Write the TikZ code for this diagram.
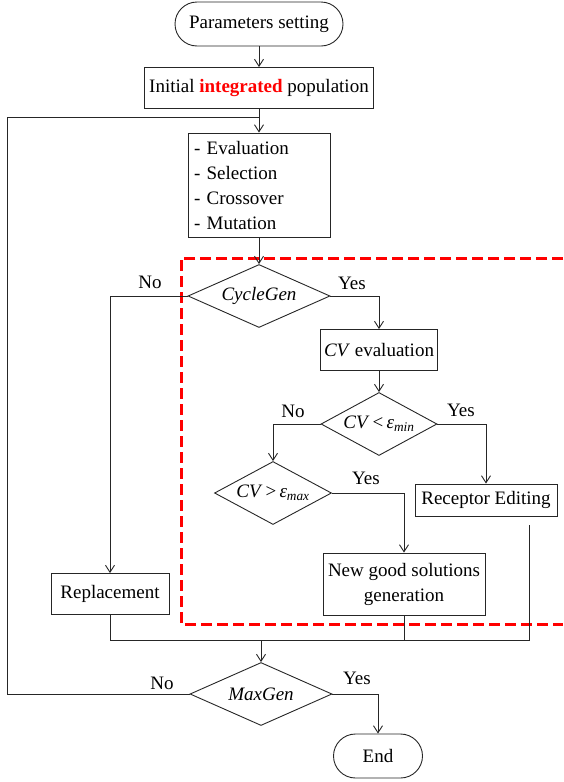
\documentclass[tikz,border=0pt]{standalone}
\usepackage{fontspec}
\setmainfont{Liberation Serif}
\usetikzlibrary{arrows.meta,shapes.geometric}

\begin{document}
\begin{tikzpicture}[x=1pt, y=-1pt,
		font=\fontsize{19}{25}\selectfont,
		line width=0.9pt, draw=black!85,
		box/.style={draw, rectangle, inner sep=0pt},
		term/.style={draw, rectangle, rounded corners=22pt, inner sep=0pt, minimum height=44pt},
		decision/.style={draw, diamond, aspect=1.85, inner sep=0pt, minimum height=63pt},
		arr/.style={-{Straight Barb[length=7pt,width=9pt]}},
		lbl/.style={inner sep=0pt},
		zone/.style={draw=red, line width=3pt, dash pattern=on 11pt off 5pt}]
				\useasboundingbox (0,0) rectangle (563,782);
				
				\node[term, minimum width=168pt] (params) at (259,24) {Parameters setting};
				\node[box, minimum width=229pt, minimum height=41pt] (init) at (259,88) {Initial \textcolor{red}{\textbf{integrated}} population};
				\node[box, minimum width=142pt, minimum height=104pt, text width=130pt, align=left] (eval) at (259,185) {- Evaluation\\- Selection\\- Crossover\\- Mutation};
				
				\node[decision, minimum width=142pt] (cycle) at (259,296) {\textit{CycleGen}};
				\node[box, minimum width=117pt, minimum height=41pt] (cveval) at (379,350) {\textit{CV} evaluation};
				\node[decision, minimum width=116pt] (cvmin) at (379,424) {\textit{CV}\,<\,\textit{ε}\textsubscript{\textit{min}}};
				\node[decision, minimum width=117pt] (cvmax) at (273,493) {\textit{CV}\,>\,\textit{ε}\textsubscript{\textit{max}}};
				\node[box, minimum width=142pt, minimum height=32pt] (recept) at (486,500) {Receptor Editing};
				\node[box, minimum width=162pt, minimum height=62pt, align=center] (ngs) at (404,584) {New good solutions\\generation};
				\node[box, minimum width=118pt, minimum height=41pt] (repl) at (110,594) {Replacement};
				
				\node[decision, minimum width=142pt] (maxgen) at (261,694) {\textit{MaxGen}};
				\node[term, minimum width=89pt] (stop) at (378,756) {End};
				
				\node[lbl] (no1) at (150,282) {No};
				\node[lbl] (yes1) at (352,283) {Yes};
				\node[lbl] (no2) at (293,411) {No};
				\node[lbl] (yes2) at (461,410) {Yes};
				\node[lbl] (yes3) at (366,478) {Yes};
				\node[lbl] (no3) at (162,683) {No};
				\node[lbl] (yes4) at (357,678) {Yes};
				
				\coordinate (loop) at (7,117);
				\coordinate (rtop) at (529,525);
				\coordinate (rbot) at (529,640);
				
				\draw[zone] (563,258) -- (181,258) -- (181,624) -- (563,624);
				
				\draw[arr] (params) -- (init);
				\draw[arr] (init) -- (eval);
				\draw[arr] (eval) -- (cycle);
				\draw[arr] (cycle.east) -| (cveval.north);
				\draw[arr] (cveval) -- (cvmin);
				\draw[arr] (cvmin.west) -| (cvmax.north);
				\draw[arr] (cvmin.east) -| (recept.north);
				\draw[arr] (cvmax.east) -| (ngs.north);
				\draw[arr] (cycle.west) -| (repl.north);
				
				\draw (repl.south) |- (rbot) -- (rtop);
				\draw (ngs.south) -- (ngs.south |- rbot);
				\draw[arr] (maxgen.north |- rbot) -- (maxgen.north);
				
				\draw (maxgen.west) -| (loop) -- (init.south |- loop);
				\draw[arr] (maxgen.east) -| (stop.north);
			\end{tikzpicture}
\end{document}
